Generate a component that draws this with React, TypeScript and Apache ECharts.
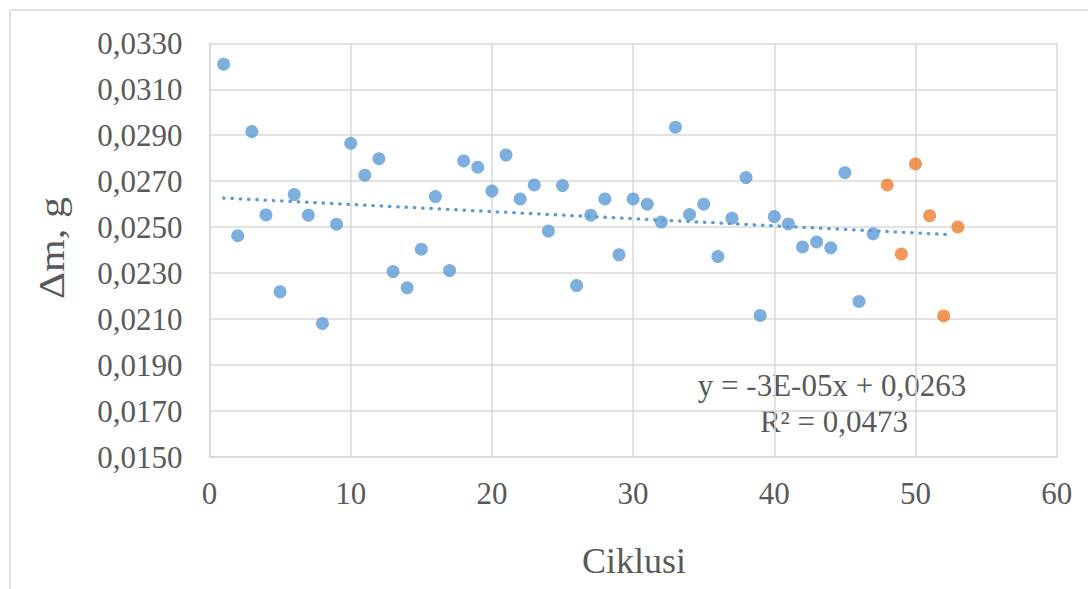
import React, { useEffect, useRef } from "react";
import * as echarts from "echarts";

const cyclesBlue: number[] = [
  1, 2, 3, 4, 5, 6, 7, 8, 9, 10, 11, 12, 13, 14, 15, 16, 17, 18, 19, 20, 21, 22, 23, 24,
  25, 26, 27, 28, 29, 30, 31, 32, 33, 34, 35, 36, 37, 38, 39, 40, 41, 42, 43, 44, 45, 46, 47,
];
const massBlue: number[] = [
  0.03209, 0.02463, 0.02916, 0.02553, 0.02219, 0.02642, 0.02552, 0.02081, 0.02513, 0.02865,
  0.02726, 0.02798, 0.02307, 0.02236, 0.02404, 0.02633, 0.02311, 0.02788, 0.02761, 0.02657,
  0.02814, 0.02623, 0.02684, 0.02483, 0.02681, 0.02246, 0.02552, 0.02623, 0.0238, 0.02623,
  0.026, 0.02522, 0.02935, 0.02555, 0.026, 0.02372, 0.02539, 0.02716, 0.02116, 0.02546,
  0.02514, 0.02414, 0.02436, 0.0241, 0.02737, 0.02177, 0.02471,
];
const cyclesOrange: number[] = [48, 49, 50, 51, 52, 53];
const massOrange: number[] = [0.02684, 0.02383, 0.02775, 0.0255, 0.02114, 0.02501];

const trendX: number[] = [1, 52.6];
const trendSlope = -3.1e-5;
const trendIntercept = 0.0263;
const equationLines: string[] = ["y = -3E-05x + 0,0263", "R² = 0,0473"];

const xTitle = "Ciklusi";
const yTitle = "Δm, g";

const BLUE = "#5B9BD5";
const ORANGE = "#ED7D31";
const TEXT = "#595959";
const GRID = "#d9d9d9";
const FONT = "'Liberation Serif', 'Times New Roman', serif";

export default function App() {
  const ref = useRef<HTMLDivElement>(null);

  useEffect(() => {
    if (!ref.current) return;
    const chart = echarts.init(ref.current, undefined, { renderer: "svg" });
    const blueData = cyclesBlue.map((c, i) => [c, massBlue[i]]);
    const orangeData = cyclesOrange.map((c, i) => [c, massOrange[i]]);
    const trendData = trendX.map((x) => [x, trendIntercept + trendSlope * x]);

    chart.setOption({
      animation: false,
      backgroundColor: "#ffffff",
      grid: { left: 209.5, right: 31.3, top: 43.3, bottom: 132, containLabel: false },
      xAxis: {
        type: "value",
        min: 0,
        max: 60,
        interval: 10,
        axisLine: { show: true, lineStyle: { color: GRID, width: 1.5 } },
        axisTick: { show: false },
        splitLine: { show: true, lineStyle: { color: GRID, width: 1.5 } },
        axisLabel: { color: TEXT, fontFamily: FONT, fontSize: 31, margin: 21 },
      },
      yAxis: {
        type: "value",
        min: 0.015,
        max: 0.033,
        interval: 0.002,
        axisLine: { show: true, lineStyle: { color: GRID, width: 1.5 } },
        axisTick: { show: false },
        splitLine: { show: true, lineStyle: { color: GRID, width: 1.5 } },
        axisLabel: {
          color: TEXT,
          fontFamily: FONT,
          fontSize: 31,
          margin: 27,
          formatter: (v: number) => v.toFixed(4).replace(".", ","),
        },
      },
      series: [
        {
          type: "line",
          data: trendData,
          symbol: "none",
          silent: true,
          z: 1,
          lineStyle: { color: BLUE, width: 3.3, type: [0.5, 7.8], cap: "round" },
        },
        {
          type: "scatter",
          data: blueData,
          symbol: "circle",
          symbolSize: 13,
          itemStyle: { color: BLUE },
          z: 2,
        },
        {
          type: "scatter",
          data: orangeData,
          symbol: "circle",
          symbolSize: 13,
          itemStyle: { color: ORANGE },
          z: 3,
        },
      ],
      graphic: [
        {
          type: "line",
          shape: { x1: 10, y1: 10, x2: 1100, y2: 10 },
          style: { stroke: GRID, lineWidth: 1.5 },
          silent: true,
        },
        {
          type: "line",
          shape: { x1: 10, y1: 10, x2: 10, y2: 600 },
          style: { stroke: GRID, lineWidth: 1.5 },
          silent: true,
        },
        {
          type: "text",
          x: 832,
          y: 385,
          style: {
            text: equationLines[0],
            fill: TEXT,
            font: `31px ${FONT}`,
            textAlign: "center",
            textVerticalAlign: "middle",
          },
          silent: true,
        },
        {
          type: "text",
          x: 834,
          y: 421,
          style: {
            text: equationLines[1],
            fill: TEXT,
            font: `31px ${FONT}`,
            textAlign: "center",
            textVerticalAlign: "middle",
          },
          silent: true,
        },
        {
          type: "text",
          x: 634,
          y: 561,
          style: {
            text: xTitle,
            fill: TEXT,
            font: `36px ${FONT}`,
            textAlign: "center",
            textVerticalAlign: "middle",
          },
          silent: true,
        },
        {
          type: "text",
          x: 52,
          y: 248,
          rotation: Math.PI / 2,
          scaleX: 1.17,
          style: {
            text: yTitle,
            fill: TEXT,
            font: `36px ${FONT}`,
            textAlign: "center",
            textVerticalAlign: "middle",
          },
          silent: true,
        },
      ],
    });
    return () => chart.dispose();
  }, []);

  return (
    <div
      ref={ref}
      style={{ position: "absolute", left: 0, top: 0, width: 1088, height: 589 }}
    />
  );
}
